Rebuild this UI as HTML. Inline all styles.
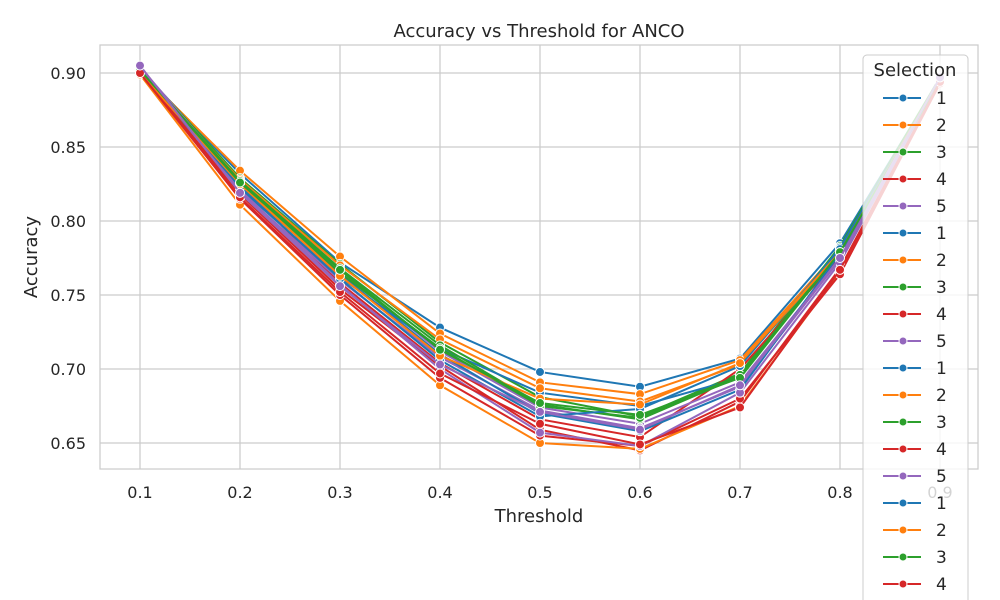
<!DOCTYPE html>
<html><head><meta charset="utf-8"><style>
html,body{margin:0;padding:0;background:#fff;}
svg{display:block;font-family:"DejaVu Sans","Liberation Sans",sans-serif;}
</style></head><body>
<svg id="chart" width="1000" height="600" viewBox="0 0 1000 600" xmlns="http://www.w3.org/2000/svg">
<rect width="1000" height="600" fill="#fff"/>
<text x="539" y="37" text-anchor="middle" font-size="18" fill="#262626">Accuracy vs Threshold for ANCO</text>
<text x="539" y="522" text-anchor="middle" font-size="18" fill="#262626">Threshold</text>
<text transform="translate(37,257) rotate(-90)" text-anchor="middle" font-size="18" fill="#262626">Accuracy</text>
<g id="grid"></g><g id="ticks"></g><g id="series"></g>
<rect x="100" y="45" width="878" height="424" fill="none" stroke="#cccccc" stroke-width="1.25"/>
<g id="legend"></g>
</svg>
<script>
const thresholds=[0.1,0.2,0.3,0.4,0.5,0.6,0.7,0.8,0.9];
const xTickLabels=["0.1","0.2","0.3","0.4","0.5","0.6","0.7","0.8","0.9"];
const yTicks=[0.65,0.70,0.75,0.80,0.85,0.90];
const yTickLabels=["0.65","0.70","0.75","0.80","0.85","0.90"];
const seriesLabels=["1","2","3","4","5","1","2","3","4","5","1","2","3","4","5","1","2","3","4","5"];
const colors=["#1f77b4","#ff7f0e","#2ca02c","#d62728","#9467bd"];
const s1=[.902,.832,.772,.728,.698,.688,.707,.785,.896];
const s2=[.901,.834,.776,.724,.691,.683,.706,.781,.895];
const s3=[.903,.829,.771,.718,.681,.668,.697,.783,.897];
const s4=[.900,.825,.758,.704,.666,.654,.700,.776,.894];
const s5=[.904,.826,.766,.712,.674,.663,.691,.775,.896];
const s6=[.901,.822,.762,.714,.684,.675,.694,.782,.895];
const s7=[.900,.828,.770,.720,.687,.678,.703,.779,.896];
const s8=[.902,.827,.768,.716,.676,.666,.695,.780,.895];
const s9=[.901,.818,.754,.702,.659,.645,.678,.768,.894];
const s10=[.903,.820,.760,.708,.672,.660,.688,.774,.896];
const s11=[.902,.824,.764,.710,.670,.658,.686,.778,.895];
const s12=[.899,.811,.746,.689,.650,.646,.675,.766,.894];
const s13=[.901,.826,.765,.714,.675,.667,.696,.780,.896];
const s14=[.900,.815,.750,.694,.655,.648,.680,.764,.893];
const s15=[.904,.821,.757,.700,.657,.648,.684,.772,.895];
const s16=[.901,.823,.761,.706,.668,.673,.702,.781,.895];
const s17=[.900,.825,.763,.709,.680,.676,.704,.779,.896];
const s18=[.902,.826,.767,.713,.677,.669,.694,.779,.895];
const s19=[.900,.816,.752,.697,.663,.649,.674,.767,.894];
const s20=[.905,.819,.756,.703,.671,.659,.689,.775,.897];
const allSeries=[s1,s2,s3,s4,s5,s6,s7,s8,s9,s10,s11,s12,s13,s14,s15,s16,s17,s18,s19,s20];

const NS="http://www.w3.org/2000/svg";
const X=v=>140+(v-0.1)*1000;
const Y=v=>73+(0.90-v)*1480;
function mk(tag,attrs,parent){const e=document.createElementNS(NS,tag);for(const k in attrs)e.setAttribute(k,attrs[k]);parent.appendChild(e);return e;}
const grid=document.getElementById('grid'),ticks=document.getElementById('ticks');
thresholds.forEach((t,i)=>{
  const l=mk('line',{x1:X(t),x2:X(t),y1:45,y2:469,stroke:'#cccccc','stroke-width':1.25},grid);
  
  
  const tx=mk('text',{x:X(t),y:498,'text-anchor':'middle','font-size':16,fill:'#262626'},ticks);
  tx.textContent=xTickLabels[i];
  
  
});
yTicks.forEach((v,i)=>{
  const l=mk('line',{x1:100,x2:978,y1:Y(v),y2:Y(v),stroke:'#cccccc','stroke-width':1.25},grid);
  
  
  const tx=mk('text',{x:86,y:Y(v)+6,'text-anchor':'end','font-size':16,fill:'#262626'},ticks);
  tx.textContent=yTickLabels[i];
  
  
});
const sg=document.getElementById('series');
allSeries.forEach((s,i)=>{
  const c=colors[i%5];
  const g=mk('g',{},sg);
  
  
  mk('polyline',{points:s.map((v,j)=>X(thresholds[j])+','+Y(v)).join(' '),fill:'none',stroke:c,'stroke-width':2},g);
  s.forEach((v,j)=>{
    const p=mk('circle',{cx:X(thresholds[j]),cy:Y(v),r:4.5,fill:c,stroke:'#fff','stroke-width':1},g);
    
    
  });
});
const lg=document.getElementById('legend');
mk('rect',{x:863,y:55,width:105,height:570,rx:4,fill:'#ffffff','fill-opacity':0.8,stroke:'#cccccc','stroke-width':1},lg);
const lt=mk('text',{x:915,y:76,'text-anchor':'middle','font-size':18,fill:'#262626'},lg);
lt.textContent='Selection';


seriesLabels.forEach((lab,i)=>{
  const y=98+i*27;
  if(y>620)return;
  const c=colors[i%5];
  const g=mk('g',{},lg);
  
  
  mk('line',{x1:883,x2:921,y1:y,y2:y,stroke:c,'stroke-width':2},g);
  mk('circle',{cx:903,cy:y,r:4,fill:c,stroke:'#fff','stroke-width':1},g);
  const t=mk('text',{x:936,y:y+6,'font-size':17,fill:'#262626'},g);
  t.textContent=lab;
});
</script>
</body></html>
